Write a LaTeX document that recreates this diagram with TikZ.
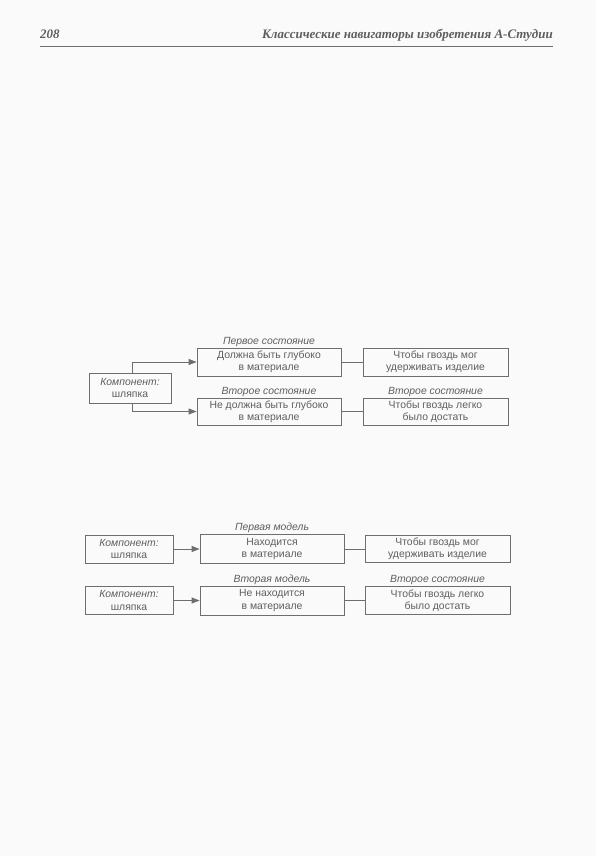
\documentclass[tikz,border=0pt]{standalone}
\usepackage{fontspec}
\setmainfont{Liberation Serif}
\newfontfamily\boxfont{Liberation Sans}
\usetikzlibrary{arrows.meta}
\definecolor{ink}{HTML}{6E6E6E}
\definecolor{txt}{HTML}{5E5E5E}
\definecolor{paper}{HTML}{FAFAFA}
\tikzset{
  bx/.style={draw=ink, line width=0.8pt, rectangle, inner sep=0pt, align=center,
    text=txt, font=\boxfont\fontsize{10.4}{12.2}\selectfont, minimum height=28pt},
  lbl/.style={inner sep=0pt, text=txt, font=\boxfont\itshape\fontsize{10.4}{12}\selectfont},
  conn/.style={draw=ink, line width=0.8pt},
  arr/.style={conn, -{Triangle[length=8pt,width=6pt]}},
  hdr/.style={inner sep=0pt, text=txt, font=\bfseries\itshape\fontsize{13}{15}\selectfont}
}
\begin{document}
\begin{tikzpicture}[x=1pt,y=-1pt]
\fill[paper] (0,0) rectangle (596,856);
\useasboundingbox (0,0) rectangle (596,856);
% header
\node[hdr, anchor=base west] (pg) at (40,39) {208};
\node[hdr, anchor=base east] (ttl) at (553,39) {Классические навигаторы изобретения А-Студии};
\coordinate (rl) at (40,47);
\coordinate (rr) at (553,47);
\draw[ink, line width=1pt] (rl) -- (rr);

% top diagram
\node[bx, minimum width=82pt, minimum height=30pt] (k) at (130,388) {\textit{Компонент:}\\шляпка};
\node[bx, minimum width=144pt] (a1) at (269,362) {Должна быть глубоко\\в материале};
\node[bx, minimum width=144pt, minimum height=27pt] (a2) at (269,411.5) {Не должна быть глубоко\\в материале};
\node[bx, minimum width=145pt] (b1) at (435.5,362) {Чтобы гвоздь мог\\удерживать изделие};
\node[bx, minimum width=145pt, minimum height=27pt] (b2) at (435.5,411.5) {Чтобы гвоздь легко\\было достать};
\node[lbl, anchor=south] (la1) at ([yshift=1.2pt]a1.north) {Первое состояние};
\node[lbl, anchor=south] (la2) at ([yshift=1.2pt]a2.north) {Второе состояние};
\node[lbl, anchor=south] (lb2) at ([yshift=1.2pt]b2.north) {Второе состояние};
\coordinate (kt) at ([xshift=2pt]k.north);
\coordinate (kb) at ([xshift=2pt]k.south);
\draw[arr] (kt) |- (a1.west);
\draw[arr] (kb) |- (a2.west);
\draw[conn] (a1.east) -- (b1.west);
\draw[conn] (a2.east) -- (b2.west);

% bottom diagram
\node[bx, minimum width=88pt] (k1) at (129,549) {\textit{Компонент:}\\шляпка};
\node[bx, minimum width=88pt] (k2) at (129,600.5) {\textit{Компонент:}\\шляпка};
\node[bx, minimum width=144pt, minimum height=29pt] (m1) at (272,549) {Находится\\в материале};
\node[bx, minimum width=144pt, minimum height=29pt] (m2) at (272,600.5) {Не находится\\в материале};
\node[bx, minimum width=145pt, minimum height=27pt] (r1) at (437.5,549) {Чтобы гвоздь мог\\удерживать изделие};
\node[bx, minimum width=145pt, minimum height=28pt] (r2) at (437.5,600.5) {Чтобы гвоздь легко\\было достать};
\node[lbl, anchor=south] (lm1) at ([yshift=1.2pt]m1.north) {Первая модель};
\node[lbl, anchor=south] (lm2) at ([yshift=1.2pt]m2.north) {Вторая модель};
\node[lbl, anchor=south] (lr2) at ([yshift=1.2pt]r2.north) {Второе состояние};
\draw[arr] (k1.east) -- (m1.west);
\draw[arr] (k2.east) -- (m2.west);
\draw[conn] (m1.east) -- (r1.west);
\draw[conn] (m2.east) -- (r2.west);
\end{tikzpicture}
\end{document}
